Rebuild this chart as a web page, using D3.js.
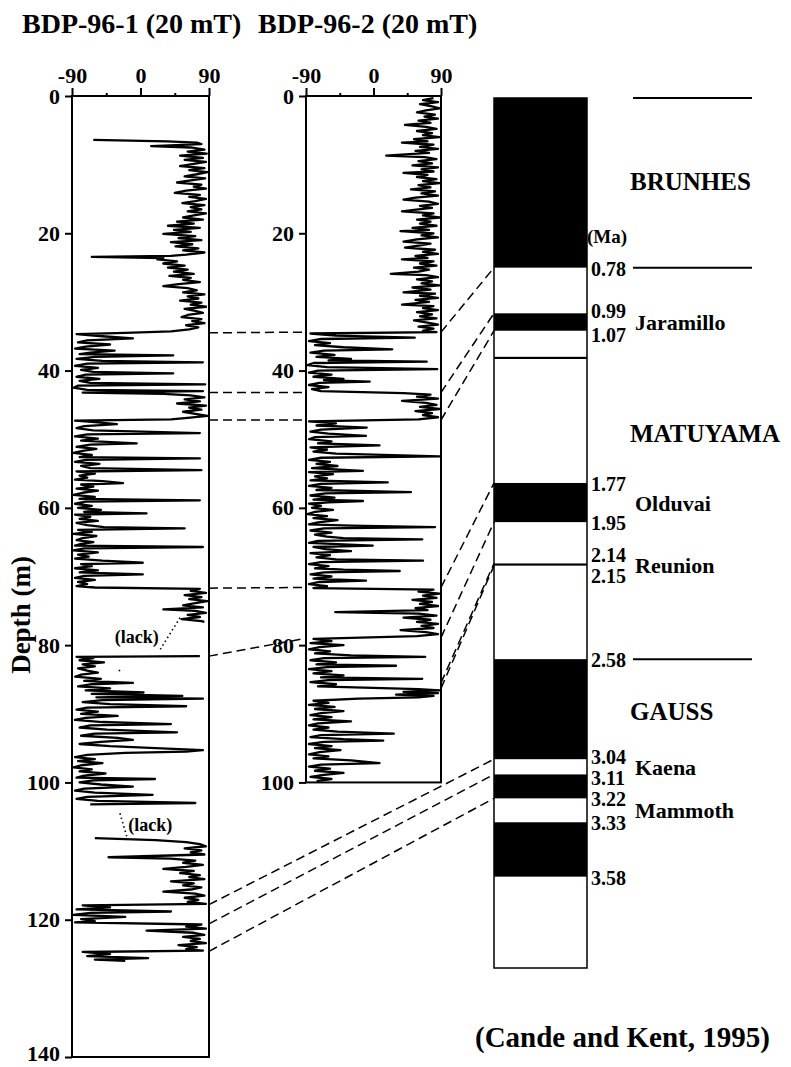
<!DOCTYPE html>
<html lang="en">
<head>
<meta charset="utf-8">
<title>BDP-96 inclination and polarity time scale</title>
<script src="https://d3js.org/d3.v7.min.js"></script>
<style>
  body { margin: 0; background: #fff; }
  svg text { font-family: "Liberation Serif", "Times New Roman", serif; font-weight: bold; fill: #000; }
  .frame { fill: none; stroke: #000; stroke-width: 2; }
  .trace { fill: none; stroke: #000; stroke-width: 2.3; stroke-linejoin: round; }
  .tie { fill: none; stroke: #000; stroke-width: 1.5; stroke-dasharray: 9,5; }
  .lack { fill: none; stroke: #000; stroke-width: 1.6; stroke-dasharray: 1.5,3; }
  .axis path { display: none; }
  .axis line { stroke: #000; stroke-width: 2; }
  .axis text { font-size: 22px; }
  .chronline { stroke: #000; stroke-width: 2; }
</style>
</head>
<body>
<script>
// ---- data ----
var titles = ["BDP-96-1 (20 mT)", "BDP-96-2 (20 mT)"];
var incTicks = [-90, 0, 90];
var incMinorTicks = [-45, 45];
var depthTicks1 = [0, 20, 40, 60, 80, 100, 120, 140];
var depthTicks2 = [0, 20, 40, 60, 80, 100];

// BDP-96-1: [depth (m), inclination (deg)], three pieces split by missing core
var core1A = [
  [6.4,-62],[6.6,35],[6.8,74],[7.0,80],[7.3,14],[7.5,66],[7.8,84],[8.1,62],[8.4,87],[8.7,52],[9.0,82],[9.3,58],
  [9.6,86],[9.9,70],[10.2,52],[10.5,84],[10.8,64],[11.1,88],[11.4,74],[11.7,58],[12.0,85],[12.3,66],[12.6,48],
  [12.9,80],[13.2,70],[13.5,86],[13.8,60],[14.1,45],[14.4,78],[14.7,64],[15.0,86],[15.3,72],[15.6,55],[15.9,84],
  [16.2,66],[16.5,80],[16.8,62],[17.1,86],[17.4,70],[17.7,56],[18.0,82],[18.3,48],[18.6,70],[18.9,36],[19.2,78],
  [19.5,44],[19.8,66],[20.1,30],[20.4,72],[20.7,50],[21.0,80],[21.3,40],[21.6,68],[21.9,46],[22.2,76],[22.5,56],
  [22.8,84],[23.1,60],[23.3,40],[23.45,-64],[23.6,30],[23.8,22],[24.1,48],[24.4,30],[24.7,58],[25.0,36],[25.3,62],
  [25.6,44],[25.9,70],[26.2,38],[26.5,66],[26.8,56],[27.1,78],[27.4,50],[27.7,30],[28.0,62],[28.3,74],[28.6,56],
  [28.9,84],[29.2,62],[29.5,76],[29.8,52],[30.1,80],[30.4,66],[30.7,86],[31.0,58],[31.3,72],[31.6,82],[31.9,62],
  [32.2,54],[32.5,80],[32.8,68],[33.1,84],[33.4,60],[33.7,76],[34.0,64],[34.3,40],[34.5,-20],[34.7,-84],[35.0,-50],
  [35.3,-10],[35.6,-70],[35.9,-82],[36.2,-40],[36.5,-72],[36.8,-86],[37.1,-34],[37.4,-66],[37.6,-80],[37.8,43],
  [38.0,-60],[38.3,-84],[38.6,-50],[38.8,82],[39.0,-70],[39.3,-86],[39.6,-56],[39.9,-78],[40.2,-62],[40.4,43],
  [40.6,-72],[40.9,-84],[41.2,-54],[41.5,-80],[41.8,-66],[42.0,85],[42.2,-82],[42.5,-88],[42.8,-70],[43.0,82],
  [43.2,-76],[43.4,30],[43.6,66],[43.9,84],[44.2,58],[44.5,78],[44.8,48],[45.1,86],[45.4,64],[45.7,80],[46.0,56],
  [46.3,72],[46.6,88],[46.9,62],[47.1,40],[47.3,-86],[47.5,-60],[47.8,-31],[48.1,-74],[48.4,-84],[48.7,-62],
  [49.1,78],[49.3,-70],[49.6,-86],[49.9,-56],[50.2,-78],[50.6,-5],[50.8,-66],[51.1,-84],[51.4,-58],[51.7,-76],
  [52.0,-88],[52.3,-64],[52.6,-80],[52.8,78],[53.0,-72],[53.3,-86],[53.6,-54],[53.9,-78],[54.2,-66],[54.5,80],
  [54.7,-84],[55.0,-60],[55.3,-80],[55.6,-70],[55.9,-86],[56.1,-50],[56.4,-23],[56.6,-78],[56.9,-62],[57.2,-84],
  [57.5,-56],[57.8,-76],[58.1,-88],[58.4,-60],[58.7,-80],[58.9,78],[59.1,-72],[59.4,-86],[59.7,-64],[60.0,-82],
  [60.3,-52],[60.6,-74],[60.8,8],[61.0,-86],[61.3,-66],[61.6,-80],[61.9,-56],[62.2,-84],[62.5,-70],[62.8,-48],
  [63.0,58],[63.2,-82],[63.5,-64],[63.8,-88],[64.1,-58],[64.4,-76],[64.7,-84],[65.0,-62],[65.3,-80],[65.5,-86],
  [65.7,82],[65.9,-74],[66.2,-88],[66.5,-56],[66.8,-82],[67.1,-68],[67.4,-86],[67.7,-50],[68.0,3],[68.2,-78],
  [68.5,-64],[68.8,-86],[69.1,-56],[69.4,-80],[69.7,3],[69.9,-74],[70.2,-86],[70.5,-60],[70.8,-82],[71.1,-70],
  [71.4,-84],[71.6,-60],[71.8,78],[72.1,66],[72.4,86],[72.7,58],[73.0,80],[73.3,64],[73.6,88],[73.9,70],[74.2,56],
  [74.5,82],[74.8,30],[75.0,72],[75.3,86],[75.6,62],[75.9,78],[76.2,54],[76.5,80],[76.6,84]
];
var core1B = [
  [81.6,78],[81.7,-84],[81.9,-62],[82.2,-80],[82.5,-48],[82.8,-76],[83.1,-60],[83.4,-82],[83.7,-70],[84.0,-56],
  [84.3,-78],[84.6,-86],[84.9,-52],[85.2,-74],[85.5,-10],[85.7,-66],[86.0,-82],[86.3,-40],[86.6,-72],[86.9,4],
  [87.1,-64],[87.4,55],[87.6,-58],[87.8,82],[88.0,-50],[88.3,-76],[88.6,-40],[88.9,60],[89.1,-70],[89.4,-84],
  [89.7,-56],[90.0,-78],[90.3,-30],[90.6,-72],[90.9,-86],[91.2,-50],[91.5,40],[91.7,-66],[92.0,-80],[92.3,-44],
  [92.7,48],[92.9,-60],[93.2,-78],[93.5,-30],[93.8,-10],[94.1,-52],[94.4,-80],[94.7,-40],[95.0,20],[95.3,82],
  [95.5,60],[95.7,-20],[96.0,-70],[96.3,-86],[96.6,-60],[96.9,-82],[97.2,-50],[97.5,-78],[97.8,-88],[98.1,-64],
  [98.4,-80],[98.7,-46],[99.0,-74],[99.3,-84],[99.5,19],[99.7,-62],[100.0,-80],[100.3,-52],[100.6,-10],[100.9,-74],
  [101.2,-86],[101.5,-60],[101.8,16],[102.1,-70],[102.4,-84],[102.7,-56],[103.0,72],[103.2,-66]
];
var core1C = [
  [108.1,-60],[108.4,20],[108.7,60],[109.0,78],[109.3,86],[109.6,58],[109.9,80],[110.2,66],[110.5,84],[110.9,-42],
  [111.1,40],[111.4,72],[111.7,56],[112.0,82],[112.3,60],[112.6,30],[112.9,70],[113.2,52],[113.5,78],[113.8,64],
  [114.1,84],[114.4,40],[114.7,70],[115.0,56],[115.3,80],[115.6,66],[115.9,30],[116.2,72],[116.5,84],[116.8,58],
  [117.1,76],[117.4,62],[117.7,86],[117.9,-76],[118.2,-40],[118.5,-84],[118.8,40],[119.0,-66],[119.3,-88],
  [119.6,-20],[119.9,-78],[120.2,-60],[120.4,-86],[120.7,80],[121.0,60],[121.3,86],[121.6,8],[121.9,70],[122.2,84],
  [122.5,56],[122.8,78],[123.1,66],[123.4,86],[123.7,50],[124.0,74],[124.3,60],[124.5,82],[124.7,-76],[125.0,-40],
  [125.3,-70],[125.6,10],[125.8,-60],[126.0,-20]
];
// dotted links across the missing intervals
var core1Lack = [
  [[76.0,52],[80.6,26]],
  [[104.5,-27],[107.9,-18]],
  [[83.6,-28],[84.2,-26]]
];
var lackLabels = [[79.7,-5],[107.1,-16]];

// BDP-96-2
var core2 = [
  [0.3,80],[0.6,66],[0.9,86],[1.2,62],[1.5,78],[1.8,88],[2.1,70],[2.4,58],[2.7,82],[3.0,68],[3.3,86],[3.6,60],
  [3.9,76],[4.2,42],[4.5,70],[4.8,84],[5.1,58],[5.4,78],[5.7,66],[6.0,88],[6.3,54],[6.6,72],[6.8,38],[7.1,80],
  [7.4,62],[7.7,86],[8.0,56],[8.3,74],[8.7,17],[8.9,68],[9.2,84],[9.5,60],[9.8,78],[10.1,52],[10.4,86],[10.7,64],
  [11.0,80],[11.2,40],[11.5,72],[11.8,58],[12.1,84],[12.4,66],[12.7,88],[13.0,60],[13.3,76],[13.6,50],[13.9,82],
  [14.2,64],[14.5,86],[14.8,56],[15.1,40],[15.4,74],[15.7,86],[16.0,62],[16.3,78],[16.6,54],[16.8,38],[17.1,80],
  [17.4,66],[17.7,88],[18.0,58],[18.3,76],[18.6,62],[18.9,84],[19.2,52],[19.5,74],[19.7,36],[20.0,80],[20.3,64],
  [20.6,86],[20.9,58],[21.2,40],[21.5,76],[21.8,60],[22.1,42],[22.4,82],[22.7,66],[23.0,86],[23.3,56],[23.6,72],
  [23.8,38],[24.1,80],[24.4,62],[24.7,84],[25.0,54],[25.3,74],[25.6,60],[25.9,23],[26.1,70],[26.4,86],[26.7,58],
  [27.0,78],[27.3,64],[27.6,88],[27.9,52],[28.2,76],[28.6,40],[28.8,82],[29.1,62],[29.4,86],[29.7,56],[30.0,74],
  [30.4,38],[30.6,80],[30.9,66],[31.2,86],[31.5,58],[31.8,78],[32.1,62],[32.4,84],[32.7,54],[33.0,72],[33.3,86],
  [33.6,60],[33.9,80],[34.2,66],[34.4,84],[34.6,-84],[34.9,-50],[35.2,55],[35.4,-70],[35.7,-86],[36.0,-58],
  [36.3,-78],[36.6,-40],[36.9,25],[37.1,-66],[37.4,-84],[37.7,-52],[38.0,-76],[38.3,-30],[38.5,-60],[38.7,71],
  [38.9,-80],[39.2,-88],[39.5,-62],[39.8,85],[40.0,-74],[40.3,-86],[40.6,-56],[40.9,-80],[41.2,-40],[41.4,-66],
  [41.6,-5],[41.8,-72],[42.1,-86],[42.4,-60],[42.7,-82],[43.0,-70],[43.3,40],[43.5,76],[43.8,58],[44.1,86],
  [44.4,38],[44.7,70],[45.0,84],[45.3,62],[45.6,88],[45.9,56],[46.2,78],[46.5,66],[46.8,86],[47.1,60],[47.4,-86],
  [47.7,-50],[48.0,-76],[48.3,-9],[48.6,-70],[48.9,-84],[49.2,-60],[49.5,-10],[49.7,-78],[50.0,-86],[50.3,-56],
  [50.6,-74],[50.9,8],[51.2,-84],[51.5,-62],[51.8,-80],[52.1,-50],[52.5,88],[52.7,-70],[53.0,-86],[53.3,-58],
  [53.6,-76],[53.9,-48],[54.2,-82],[54.6,-14],[54.8,-86],[55.1,-54],[55.4,-78],[55.7,-62],[56.0,-84],[56.3,19],
  [56.5,-70],[56.8,-86],[57.1,-56],[57.4,-76],[57.7,50],[57.9,-64],[58.2,-84],[58.5,-52],[58.8,-80],[59.0,-14],
  [59.2,-60],[59.4,-86],[59.7,-70],[60.0,-82],[60.3,-54],[60.6,-78],[60.9,-88],[61.2,-62],[61.5,-80],[61.8,-48],
  [62.1,-74],[62.4,-86],[62.6,-30],[62.8,82],[63.0,-66],[63.3,-84],[63.6,-56],[63.9,-78],[64.2,-62],[64.4,-40],
  [64.6,65],[64.8,-74],[65.1,-86],[65.5,-1],[65.7,-80],[66.0,-64],[66.3,-30],[66.6,-84],[66.9,-58],[67.2,-76],
  [67.5,-50],[67.7,66],[67.9,-70],[68.2,-86],[68.5,-60],[68.8,-78],[69.0,-40],[69.2,35],[69.4,-66],[69.7,-84],
  [70.0,-56],[70.3,-80],[70.6,-10],[70.8,-72],[71.1,-86],[71.4,-62],[71.7,-80],[71.9,80],[72.2,60],[72.5,88],
  [72.8,66],[73.1,84],[73.4,52],[73.7,78],[74.0,62],[74.3,86],[74.6,56],[74.9,72],[75.2,-51],[75.4,60],[75.7,84],
  [76.0,40],[76.3,76],[76.6,58],[76.9,86],[77.2,64],[77.5,80],[77.8,36],[78.1,70],[78.4,86],[78.7,58],[79.1,-80],
  [79.4,-56],[79.7,-84],[80.0,-40],[80.3,-72],[80.6,-86],[80.9,-58],[81.2,-78],[81.5,-30],[81.7,69],[81.9,-66],
  [82.2,-84],[82.5,-50],[82.8,-76],[83.0,30],[83.2,-62],[83.5,-86],[83.8,-56],[84.1,-80],[84.4,-40],[84.7,-70],
  [84.9,65],[85.1,-60],[85.4,-84],[85.7,-50],[86.0,-74],[86.4,60],[86.6,88],[86.8,40],[87.0,86],[87.2,30],
  [87.4,80],[87.6,60],[87.8,-20],[88.1,-80],[88.4,-60],[88.7,-86],[89.0,-52],[89.3,-78],[89.6,-40],[89.9,-70],
  [90.2,-84],[90.5,-56],[90.8,-80],[91.1,-30],[91.4,-74],[91.7,-86],[92.0,-60],[92.3,-80],[92.6,-48],[92.9,27],
  [93.1,-70],[93.4,-84],[93.7,-40],[93.9,13],[94.1,-66],[94.4,-86],[94.7,-56],[95.0,-78],[95.3,-44],[95.6,-72],
  [95.9,-86],[96.2,-60],[96.5,-80],[96.8,-30],[97.2,8],[97.4,-70],[97.7,-86],[98.0,-58],[98.3,-78],[98.6,-40],
  [98.9,-66],[99.2,-84],[99.5,-56],[99.8,-76]
];

// polarity time scale (Cande and Kent, 1995), normal intervals in Ma
var normalTop  = [0.00, 0.99, 1.19, 1.77, 2.14, 2.58, 3.11, 3.33];
var normalBase = [0.78, 1.07, 1.20, 1.95, 2.15, 3.04, 3.22, 3.58];
var scaleBase = 4.0;
var boundaryAges = [0.78, 0.99, 1.07, 1.77, 1.95, 2.14, 2.15, 2.58, 3.04, 3.11, 3.22, 3.33, 3.58];
var chronBounds = [0, 0.78, 2.58];
var chronNames = ["BRUNHES", "MATUYAMA", "GAUSS"];
var chronLabelAges = [0.38, 1.54, 2.82];
var subNames = ["Jaramillo", "Olduvai", "Reunion", "Kaena", "Mammoth"];
var subTop  = [0.99, 1.77, 2.14, 3.04, 3.22];
var subBase = [1.07, 1.95, 2.15, 3.11, 3.33];

// correlation ties
var tieLeftMid = [[34.5,34.4],[43.2,43.2],[47.2,47.2],[71.7,71.6],[81.6,79.0]];   // core1 depth -> core2 depth
var tieMidAge  = [[34.4,0.78],[43.2,0.99],[47.2,1.07],[71.6,1.77],[78.9,1.95],[85.5,2.14],[86.3,2.15]];
var tieLeftAge = [[117.8,3.04],[120.6,3.11],[124.6,3.22]];

// ---- layout ----
var W = 791, H = 1067;
var svg = d3.select("body").append("svg").attr("width", W).attr("height", H);

var yDepth = d3.scaleLinear().domain([0, 140]).range([96, 1057]);
var x1 = d3.scaleLinear().domain([-90, 90]).range([72, 209]);
var x2 = d3.scaleLinear().domain([-90, 90]).range([306, 441]);
var yAge = d3.scaleLinear().domain([0, 4]).range([98, 968]);
var colL = 494, colR = 587;

svg.selectAll(".title").data(titles).enter().append("text")
  .attr("class", "title")
  .attr("x", function(d, i) { return i ? 258 : 22; })
  .attr("y", 33)
  .style("font-size", "28px")
  .text(function(d) { return d; });

var line = function(x) {
  return d3.line().x(function(d) { return x(d[1]); }).y(function(d) { return yDepth(d[0]); });
};

function panel(x, maxDepth, ticks, segments) {
  var g = svg.append("g");
  g.append("rect").attr("class", "frame")
    .attr("x", x(-90)).attr("y", yDepth(0))
    .attr("width", x(90) - x(-90)).attr("height", yDepth(maxDepth) - yDepth(0));

  g.append("g").attr("class", "axis")
    .attr("transform", "translate(0," + yDepth(0) + ")")
    .call(d3.axisTop(x).tickValues(incTicks).tickSize(8).tickPadding(5)
      .tickFormat(function(d) { return String(d); }));
  g.append("g").attr("class", "axis")
    .attr("transform", "translate(0," + yDepth(0) + ")")
    .call(d3.axisTop(x).tickValues(incMinorTicks).tickSize(3).tickFormat(""));
  var yAx = g.append("g").attr("class", "axis")
    .attr("transform", "translate(" + x(-90) + ",0)")
    .call(d3.axisLeft(yDepth).tickValues(ticks).tickSize(7).tickPadding(5));
  // keep the lowest label inside the page
  yAx.selectAll(".tick text").filter(function(d) { return d === 140; }).attr("dy", "0.18em");

  segments.forEach(function(seg) {
    g.append("path").datum(seg).attr("class", "trace").attr("d", line(x));
  });
  return g;
}

// tie lines go underneath
svg.selectAll(".tie1").data(tieLeftMid).enter().append("line")
  .attr("class", "tie")
  .attr("x1", x1(90)).attr("y1", function(d) { return yDepth(d[0]); })
  .attr("x2", x2(-90)).attr("y2", function(d) { return yDepth(d[1]); });
svg.selectAll(".tie2").data(tieMidAge).enter().append("line")
  .attr("class", "tie")
  .attr("x1", x2(90)).attr("y1", function(d) { return yDepth(d[0]); })
  .attr("x2", colL).attr("y2", function(d) { return yAge(d[1]); });
svg.selectAll(".tie3").data(tieLeftAge).enter().append("line")
  .attr("class", "tie")
  .attr("x1", x1(90)).attr("y1", function(d) { return yDepth(d[0]); })
  .attr("x2", colL).attr("y2", function(d) { return yAge(d[1]); });

var p1 = panel(x1, 140, depthTicks1, [core1A, core1B, core1C]);
panel(x2, 100, depthTicks2, [core2]);

p1.selectAll(".lack").data(core1Lack).enter().append("path")
  .attr("class", "lack").attr("d", line(x1));
p1.selectAll(".lacktxt").data(lackLabels).enter().append("text")
  .attr("x", function(d) { return x1(d[1]); })
  .attr("y", function(d) { return yDepth(d[0]); })
  .attr("text-anchor", function(d, i) { return i ? "start" : "middle"; })
  .style("font-size", "18px")
  .text("(lack)");

svg.append("text")
  .attr("transform", "translate(30,615) rotate(-90)")
  .attr("text-anchor", "middle")
  .style("font-size", "27px")
  .text("Depth (m)");

// polarity column
svg.append("rect").attr("class", "frame")
  .attr("x", colL).attr("y", yAge(0))
  .attr("width", colR - colL).attr("height", yAge(scaleBase) - yAge(0))
  .style("stroke-width", 1.5);
svg.selectAll(".normal").data(normalTop).enter().append("rect")
  .attr("x", colL).attr("width", colR - colL)
  .attr("y", function(d) { return yAge(d); })
  .attr("height", function(d, i) { return yAge(normalBase[i]) - yAge(d); })
  .attr("fill", "#000");

svg.selectAll(".chronline").data(chronBounds).enter().append("line")
  .attr("class", "chronline")
  .attr("x1", 633).attr("x2", 752)
  .attr("y1", function(d) { return yAge(d); })
  .attr("y2", function(d) { return yAge(d); });

// age labels: close pairs are pushed apart a little
svg.selectAll(".age").data(boundaryAges).enter().append("text")
  .attr("x", 591)
  .attr("y", function(d, i) {
    var up = i < boundaryAges.length - 1 && boundaryAges[i + 1] - d < 0.09;
    var down = i > 0 && d - boundaryAges[i - 1] < 0.09;
    var gap = Math.min(up ? boundaryAges[i + 1] - d : 1, down ? d - boundaryAges[i - 1] : 1);
    var push = gap < 0.03 ? 9 : 3;
    return yAge(d) + 8 + (up ? -push : 0) + (down ? push : 0);
  })
  .style("font-size", "20px")
  .text(function(d) { return d3.format(".2f")(d); });

svg.append("text").attr("x", 587).attr("y", 243).style("font-size", "19px").text("(Ma)");

svg.selectAll(".chron").data(chronNames).enter().append("text")
  .attr("x", 630)
  .attr("y", function(d, i) { return yAge(chronLabelAges[i]) + 9; })
  .style("font-size", "25px")
  .text(function(d) { return d; });

svg.selectAll(".sub").data(subNames).enter().append("text")
  .attr("x", 635)
  .attr("y", function(d, i) { return yAge((subTop[i] + subBase[i]) / 2) + 8; })
  .style("font-size", "22px")
  .text(function(d) { return d; });

svg.append("text").attr("x", 475).attr("y", 1047)
  .style("font-size", "29px")
  .text("(Cande and Kent, 1995)");
</script>
</body>
</html>
